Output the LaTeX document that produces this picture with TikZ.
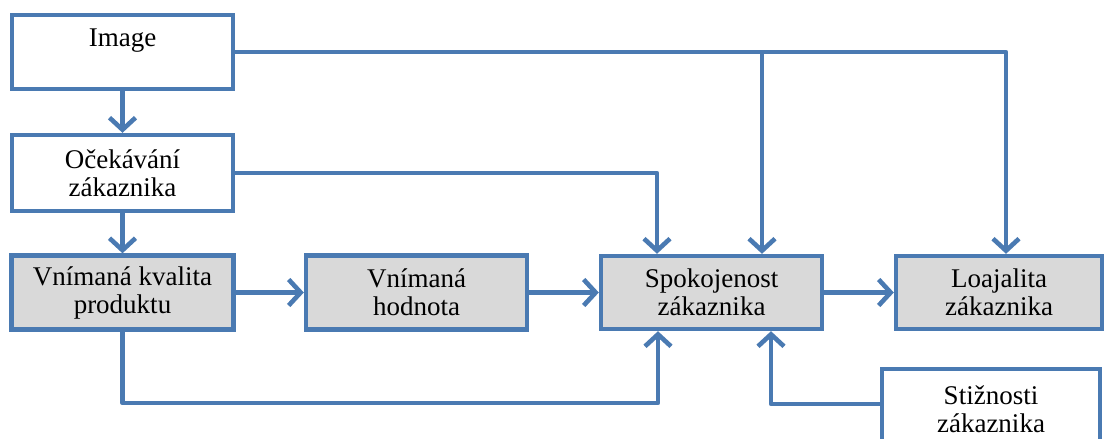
\documentclass[tikz,border=0pt]{standalone}
\usepackage{fontspec}
\setmainfont{Liberation Serif}
\usetikzlibrary{arrows.meta}
\definecolor{linkblue}{RGB}{74,122,178}
\definecolor{boxgray}{RGB}{217,217,217}
\begin{document}
\begin{tikzpicture}[x=0.5pt,y=-0.5pt,
  box/.style={draw=linkblue, line width=2.2pt, align=center, inner sep=0pt,
    font=\fontsize{13.5}{14}\selectfont},
  plain/.style={box, fill=white},
  shaded/.style={box, fill=boxgray},
  link/.style={draw=linkblue, line width=2.3pt, line join=round,
    -{Straight Barb[length=6pt,width=13pt]}},
]
\useasboundingbox (0,0) rectangle (1104,439);
\clip (0,0) rectangle (1104,439);
\fill[white] (0,0) rectangle (1104,439);

% boxes
\node[plain,  minimum width=110.5pt, minimum height=37pt] (img)  at (122.5,52)  {Image\\\mbox{}};
\node[plain,  minimum width=110.5pt, minimum height=38pt] (oce)  at (122.5,173) {Očekávání\\zákaznika};
\node[shaded, minimum width=111pt,   minimum height=37pt] (kval) at (122.5,292.5) {Vnímaná kvalita\\produktu};
\node[shaded, minimum width=110.5pt, minimum height=37pt] (hod)  at (416.5,292.5) {Vnímaná\\hodnota};
\node[shaded, minimum width=110.5pt, minimum height=36.5pt] (spok) at (711.5,292.5) {Spokojenost\\zákaznika};
\node[shaded, minimum width=103pt,   minimum height=36.5pt] (loaj) at (999,292.5) {Loajalita\\zákaznika};
\node[plain,  minimum width=109pt,   minimum height=40.5pt] (stiz) at (991,409.5) {Stižnosti\\zákaznika};

% vertical chain on the left
\draw[link] (img) -- (oce);
\draw[link] (oce) -- (kval);

% top bus from Image
\draw[link] (img.east) -| ([xshift=3.5pt]loaj.north);
\draw[link] ([xshift=25.25pt]spok.north |- img.east) -- ([xshift=25.25pt]spok.north);

% expectations into satisfaction
\draw[link] (oce.east) -| ([xshift=-27.25pt]spok.north);

% main row
\draw[link] (kval) -- (hod);
\draw[link] (hod) -- (spok);
\draw[link] (spok) -- (loaj);

% lower feedback paths
\coordinate (lowL) at (122.5,403);
\draw[link] (kval.south) -- (lowL) -| ([xshift=-26.75pt]spok.south);
\draw[link] ([yshift=2.75pt]stiz.west) -| ([xshift=29.75pt]spok.south);
\end{tikzpicture}
\end{document}
